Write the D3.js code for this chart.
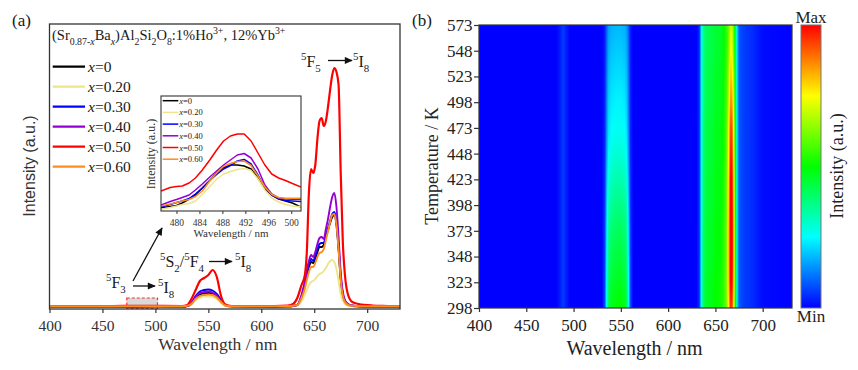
<!DOCTYPE html>
<html><head><meta charset="utf-8">
<script src="https://cdn.jsdelivr.net/npm/d3@7"></script>
<style>
body{margin:0;background:#fff;}
svg{display:block;}
</style>
</head><body><svg id="c" width="858" height="370"></svg>
<script>
// ---------------- Panel (a) data ----------------
const wavelength = [400,460,500,525,530,534,538,542,546,550,554,558,562,566,572,600,625,630,634,638,641,643,645,647,649,651,653,655,657,659,661,663,665,667,669,671,673,675,677,679,682,686,692,705,720,731];
const sX000 = [0.5,0.5,0.6,0.5,1, 3,9,12.5,13.5,14, 13,10,5,1.5,0.5, 0.5,0.7,1,2,10, 21,31,40,45,44, 48,55,60,60,62, 70,77,84,90,92, 82,58,28,12,5, 2,1,0.7,0.5,0.5, 0.5];
const sX020 = [0.5,0.5,0.6,0.5,1, 2.5,7,9.5,10.5,10.5, 10,8,4,1.5,0.5, 0.5,0.6,0.8,1.5,6, 12,17,22,25,26, 28,31,33,34,36, 39,43,46,47,45, 38,26,13,6,3, 1.5,1,0.6,0.5,0.5, 0.5];
const sX030 = [0.5,0.5,0.6,0.5,1, 4,11,15.5,17,17.5, 16.5,13,7,2,0.6, 0.5,0.7,1,2,11, 23,34,43,48,46, 51,58,63,64,64, 72,79,86,93,95, 85,60,30,13,6, 2.5,1.5,0.8,0.5,0.5, 0.5];
const sX040 = [0.5,0.5,0.6,0.5,1, 3.5,10,14,15,15.5, 14.5,11.5,6,2,0.6, 0.5,0.7,1,2,12, 25,37,46,52,50, 55,63,69,70,68, 78,88,100,110,114, 100,70,35,15,7, 3,1.5,0.8,0.5,0.5, 0.5];
const sX050 = [1,1,1.2,1,2, 8,17,26,29,32, 37,30,11,2.5,1, 1,1.5,3,9,22, 31,55,115,138,134, 142,168,186,189,181, 186,200,217,232,239, 235,222,135,65,32, 12,5,3,1.5,1, 0.5];
const sX060 = [0.8,0.8,0.9,0.8,1.2, 3,8,11,12,12.5, 12,9.5,5,1.5,0.8, 0.8,1,1.2,2,9, 18,27,35,40,40, 44,50,54,55,58, 67,76,85,92,93, 82,57,27,11,5, 2,1.2,1,0.8,0.8, 0.8];

// inset (478-502 nm)
const insetWl = [477.3,478.9,480,481,482.2,483.3,484.5,485.8,487,488.2,489.4,490.6,491.8,493,494.2,495.4,496.6,497.8,499,500.2,501.7];
const iX000 = [3.3,4.5,5.5,8,12,16,23,30.5,38,43.5,46,46,45,42,33,22,16,12,10,8,4];
const iX020 = [1.7,3.5,5,6.5,7.5,10,16.5,24.5,32,37,39.5,41.5,42.5,40.5,32,21,13,9,6.5,5,4.3];
const iX030 = [4,6.5,8.5,10,12.5,17,23,30.5,36.5,42,45.5,50,51.5,47,36,24,16,12.5,10.5,10,9.5];
const iX040 = [6,9.5,11.5,13.5,16,21,27,34,40,46,51,56,57.5,53,42,26,17,13,12,11.7,11.7];
const iX050 = [20,23.5,24.5,25,28,33,41,51,61,70,75,77,77,70,58,46,37,33,30.5,27.5,24];
const iX060 = [5,7,8.5,10,11.5,14.5,20,30,38,44.5,47.5,49.5,50,45.5,35,24,16.5,13.5,12.7,12.7,12.7];

const seriesNames = ["0","0.20","0.30","0.40","0.50","0.60"];
const seriesColors = ["#000000","#eee58a","#0000ff","#9400d3","#ff0000","#ff8c1a"];
const seriesMain = [sX000,sX020,sX030,sX040,sX050,sX060];
const seriesInset = [iX000,iX020,iX030,iX040,iX050,iX060];
const xTicksA = [400,450,500,550,600,650,700];
const xTicksInset = [480,484,488,492,496,500];

// ---------------- Panel (b) data ----------------
const temps = [298,323,348,373,398,423,448,473,498,523,548,573];
const xTicksB = [400,450,500,550,600,650,700];
const hmWl =        [400,482,486,489,492,496,530,533,535,537,540,545,550,554,556,558,560,563,630,633,635,637,640,645,650,655,658,660,661.5,663,664.5,666,667.5,669,671,673,675,680,690,700,731];
const compBg =      [0,0,0.03,0.06,0.03,0, 0,0,0,0,0,0,0,0,0,0,0,0, 0,0,0,0,0,0,0,0,0,0,0,0,0,0,0,0,0,0.03,0.06,0.06,0.04,0.01,0];
const compGreen =   [0,0,0,0,0,0, 0,0.15,0.55,0.85,0.96,1,1,0.96,0.85,0.55,0.15,0, 0,0,0,0,0,0,0,0,0,0,0,0,0,0,0,0,0,0,0,0,0,0,0];
const compRedBroad =[0,0,0,0,0,0, 0,0,0,0,0,0,0,0,0,0,0,0, 0,0.1,0.5,0.78,0.92,0.95,1,1.02,1.08,1.15,1.15,1.1,1,1,1,0.95,0.85,0.4,0.05,0,0,0,0];
const compRedPeak = [0,0,0,0,0,0, 0,0,0,0,0,0,0,0,0,0,0,0, 0,0,0,0,0,0,0,0,0,0,0.08,0.3,0.7,1,1,0.7,0.25,0,0,0,0,0,0];
const ampGreen =    [0.50,0.47,0.44,0.41,0.37,0.33,0.29,0.26,0.24,0.22,0.20,0.18];
const ampRedBroad = [0.50,0.50,0.49,0.49,0.48,0.48,0.47,0.47,0.46,0.46,0.45,0.45];
const ampRedPeak =  [0.45,0.52,0.55,0.55,0.55,0.53,0.50,0.46,0.40,0.34,0.29,0.25];
const jetColors = ["#0000ff","#00ffff","#00ff00","#ffff00","#ff0000"];

// ---------------- helpers ----------------
const SERIF = "'Liberation Serif','Times New Roman','DejaVu Serif',serif";
const SANS = "'Liberation Sans',Arial,sans-serif";
const svg = d3.select("#c");
const defs = svg.append("defs");
function rich(sel, segs, size){
  let off = 0;
  segs.forEach(s=>{
    const target = s.sub ? size*0.32 : (s.sup ? -size*0.42 : 0);
    const ts = sel.append("tspan").text(s.t).attr("dy", (target-off).toFixed(2));
    off = target;
    if (s.sub || s.sup) ts.attr("font-size", (size*0.68).toFixed(2));
    if (s.it) ts.style("font-style","italic");
  });
}
defs.append("marker").attr("id","arr").attr("viewBox","0 0 10 10")
  .attr("refX",9).attr("refY",5).attr("markerWidth",9).attr("markerHeight",8)
  .attr("markerUnits","userSpaceOnUse").attr("orient","auto")
  .append("path").attr("d","M0,0.5 L10,5 L0,9.5 Z").attr("fill","#111");

// ---------------- Panel (a) ----------------
const A = {l:49.5, r:400, t:24, b:309};
const xa = d3.scaleLinear().domain([400,731]).range([A.l,A.r]);
const ya = d3.scaleLinear().domain([-2,283]).range([A.b,A.t]);
defs.append("clipPath").attr("id","clipA").append("rect")
  .attr("x",A.l).attr("y",A.t).attr("width",A.r-A.l).attr("height",A.b-A.t);

const gA = svg.append("g");
gA.append("rect").attr("x",xa(473)).attr("y",ya(9)).attr("width",xa(502)-xa(473)).attr("height",ya(-1.5)-ya(9))
  .attr("fill","#d9d9d9").attr("stroke","#ff3030").attr("stroke-width",1.2).attr("stroke-dasharray","3,2");

const lineA = d3.line().x((d,i)=>xa(wavelength[i])).y(d=>ya(d)).curve(d3.curveMonotoneX);
const gLines = gA.append("g").attr("clip-path","url(#clipA)");
seriesMain.forEach((s,k)=>{
  gLines.append("path").attr("d",lineA(s)).attr("fill","none")
    .attr("stroke",seriesColors[k]).attr("stroke-width",k===4?2.2:1.9).attr("stroke-linejoin","round");
});

gA.append("rect").attr("x",A.l).attr("y",A.t).attr("width",A.r-A.l).attr("height",A.b-A.t)
  .attr("fill","none").attr("stroke","#333").attr("stroke-width",1.3);
const axA = gA.append("g").attr("transform",`translate(0,${A.b})`)
  .call(d3.axisBottom(xa).tickValues(xTicksA).tickSize(4).tickPadding(7).tickFormat(d3.format("d")));
axA.select(".domain").remove();
axA.selectAll("line").attr("stroke","#333").attr("stroke-width",1.2);
axA.selectAll("text").attr("font-size",15.5).attr("fill","#333");
svg.append("text").attr("x",(A.l+A.r)/2-7).attr("y",349.5).attr("text-anchor","middle").attr("font-size",17.5).attr("fill","#333").text("Wavelength / nm");
svg.append("text").attr("class","sans").attr("transform",`translate(35,166) rotate(-90)`).attr("text-anchor","middle")
  .attr("font-size",16).attr("fill","#333").text("Intensity (a.u.)");
svg.append("text").attr("x",12).attr("y",26).attr("font-size",17).text("(a)");

rich(svg.append("text").attr("x",52).attr("y",40).attr("font-size",14.5),[
  {t:"(Sr"},{t:"0.87-",sub:1},{t:"x",sub:1,it:1},{t:"Ba"},{t:"x",sub:1,it:1},{t:")Al"},{t:"2",sub:1},{t:"Si"},{t:"2",sub:1},
  {t:"O"},{t:"8",sub:1},{t:":1%Ho"},{t:"3+",sup:1},{t:", 12%Yb"},{t:"3+",sup:1}],14.5);

seriesNames.forEach((n,k)=>{
  const y = 66.7 + k*20;
  svg.append("line").attr("x1",52.7).attr("x2",85).attr("y1",y).attr("y2",y).attr("stroke",seriesColors[k]).attr("stroke-width",2.2);
  rich(svg.append("text").attr("x",88).attr("y",y+5.5).attr("font-size",15.5),[{t:"x",it:1},{t:"="+n}],15.5);
});

function label(x,y,sup,main,sub,size){
  rich(svg.append("text").attr("x",x).attr("y",y).attr("font-size",size),[{t:sup,sup:1},{t:main},{t:sub,sub:1}],size);
}
function arrow(x1,y1,x2,y2){
  svg.append("line").attr("x1",x1).attr("y1",y1).attr("x2",x2).attr("y2",y2).attr("stroke","#111").attr("stroke-width",1.3).attr("marker-end","url(#arr)");
}
label(301,67,"5","F","5",16); arrow(328,60.5,352,60.5); label(353,67,"5","I","8",16);
rich(svg.append("text").attr("x",160).attr("y",266.5).attr("font-size",16),[{t:"5",sup:1},{t:"S"},{t:"2",sub:1},{t:"/"},{t:"5",sup:1},{t:"F"},{t:"4",sub:1}],16);
arrow(209,261.5,232,261.5); label(235,267,"5","I","8",16);
label(106,288,"5","F","3",16); arrow(133,286,155,286); label(158,293,"5","I","8",16);
arrow(133,281,162,228);

// ---------------- Inset ----------------
const I = {l:161, r:301, t:96, b:211};
const xi = d3.scaleLinear().domain([477.3,501.7]).range([I.l,I.r]);
const yi = d3.scaleLinear().domain([0,115]).range([I.b,I.t]);
defs.append("clipPath").attr("id","clipI").append("rect").attr("x",I.l).attr("y",I.t).attr("width",I.r-I.l).attr("height",I.b-I.t);
svg.append("rect").attr("x",I.l).attr("y",I.t).attr("width",I.r-I.l).attr("height",I.b-I.t).attr("fill","#fff");
const lineI = d3.line().x((d,i)=>xi(insetWl[i])).y(d=>yi(d));
const gI = svg.append("g").attr("clip-path","url(#clipI)");
seriesInset.forEach((s,k)=>{
  gI.append("path").attr("d",lineI(s)).attr("fill","none").attr("stroke",seriesColors[k]).attr("stroke-width",1.5).attr("stroke-linejoin","round");
});
seriesNames.forEach((n,k)=>{
  const y = 100.7 + k*11.7;
  svg.append("line").attr("x1",162.7).attr("x2",178.3).attr("y1",y).attr("y2",y).attr("stroke",seriesColors[k]).attr("stroke-width",1.5);
  rich(svg.append("text").attr("x",179.3).attr("y",y+3).attr("font-size",8.5),[{t:"x",it:1},{t:"="+n}],8.5);
});
svg.append("rect").attr("x",I.l).attr("y",I.t).attr("width",I.r-I.l).attr("height",I.b-I.t).attr("fill","none").attr("stroke","#333").attr("stroke-width",1.1);
const axI = svg.append("g").attr("transform",`translate(0,${I.b})`)
  .call(d3.axisBottom(xi).tickValues(xTicksInset).tickSize(3).tickPadding(5).tickFormat(d3.format("d")));
axI.select(".domain").remove();
axI.selectAll("line").attr("stroke","#333");
axI.selectAll("text").attr("font-size",9.5).attr("fill","#333");
svg.append("text").attr("x",(I.l+I.r)/2).attr("y",237).attr("text-anchor","middle").attr("font-size",11).attr("fill","#333").text("Wavelength / nm");
svg.append("text").attr("transform",`translate(155,154) rotate(-90)`).attr("text-anchor","middle").attr("font-size",12).attr("fill","#333").text("Intensity (a.u.)");

// ---------------- Panel (b) ----------------
const B = {l:479, r:792, t:25, b:308};
const hx = d3.scaleLinear().domain([400,731]).range([B.l,B.r]);
const hy = d3.scaleLinear().domain([298,573]).range([B.b,B.t]);
const jet = d3.scaleLinear().domain([0,0.25,0.5,0.75,1]).range(jetColors).clamp(true);
const fBg = d3.scaleLinear().domain(hmWl).range(compBg).clamp(true);
const fG = d3.scaleLinear().domain(hmWl).range(compGreen).clamp(true);
const fRB = d3.scaleLinear().domain(hmWl).range(compRedBroad).clamp(true);
const fRP = d3.scaleLinear().domain(hmWl).range(compRedPeak).clamp(true);
defs.append("clipPath").attr("id","clipB").append("rect").attr("x",B.l).attr("y",B.t).attr("width",B.r-B.l).attr("height",B.b-B.t);
const gB = svg.append("g").attr("clip-path","url(#clipB)");
const nCols = Math.round(B.r-B.l);
const order = d3.range(temps.length).sort((a,b)=>hy(temps[a])-hy(temps[b])); // top (573) first
for(let c=0;c<nCols;c++){
  const lam = hx.invert(B.l+c+0.5);
  const grad = defs.append("linearGradient").attr("id","hg"+c).attr("x1",0).attr("y1",0).attr("x2",0).attr("y2",1);
  order.forEach(i=>{
    const v = fBg(lam)+ampGreen[i]*fG(lam)+ampRedBroad[i]*fRB(lam)+ampRedPeak[i]*fRP(lam);
    grad.append("stop").attr("offset",((hy(temps[i])-B.t)/(B.b-B.t)).toFixed(4)).attr("stop-color",jet(v));
  });
  gB.append("rect").attr("x",B.l+c).attr("y",B.t).attr("width",1.6).attr("height",B.b-B.t).attr("fill",`url(#hg${c})`);
}
svg.append("rect").attr("x",B.l).attr("y",B.t).attr("width",B.r-B.l).attr("height",B.b-B.t).attr("fill","none").attr("stroke","#333").attr("stroke-width",1.2);
const axBx = svg.append("g").attr("transform",`translate(0,${B.b})`)
  .call(d3.axisBottom(hx).tickValues(xTicksB).tickSize(4).tickPadding(7).tickFormat(d3.format("d")));
axBx.select(".domain").remove();
axBx.selectAll("line").attr("stroke","#333").attr("stroke-width",1.2);
axBx.selectAll("text").attr("font-size",17).attr("fill","#222");
const axBy = svg.append("g").attr("transform",`translate(${B.l},0)`)
  .call(d3.axisLeft(hy).tickValues(temps).tickSize(5).tickPadding(1.5).tickFormat(d3.format("d")));
axBy.select(".domain").remove();
axBy.selectAll("line").attr("stroke","#333").attr("stroke-width",1.2);
axBy.selectAll("text").attr("font-size",17).attr("fill","#222");
svg.append("text").attr("x",(B.l+B.r)/2-1).attr("y",355).attr("text-anchor","middle").attr("font-size",20).attr("fill","#222").text("Wavelength / nm");
svg.append("text").attr("transform",`translate(438,166) rotate(-90)`).attr("text-anchor","middle").attr("font-size",18).attr("fill","#222").text("Temperature / K");
svg.append("text").attr("x",412).attr("y",26).attr("font-size",17).text("(b)");

const cb = defs.append("linearGradient").attr("id","cbg").attr("x1",0).attr("y1",1).attr("x2",0).attr("y2",0);
[0,0.25,0.5,0.75,1].forEach((o,i)=>cb.append("stop").attr("offset",o).attr("stop-color",jetColors[i]));
svg.append("rect").attr("x",801).attr("y",25).attr("width",20).attr("height",283).attr("fill","url(#cbg)").attr("stroke","#777").attr("stroke-width",1);
svg.append("text").attr("x",811).attr("y",23).attr("text-anchor","middle").attr("font-size",17).attr("fill","#222").text("Max");
svg.append("text").attr("x",811).attr("y",322).attr("text-anchor","middle").attr("font-size",17).attr("fill","#222").text("Min");
svg.append("text").attr("transform",`translate(843,166) rotate(-90)`).attr("text-anchor","middle").attr("font-size",18).attr("fill","#222").text("Intensity (a.u.)");

// fonts
svg.selectAll("text").each(function(){
  const t = d3.select(this);
  t.style("font-family", t.classed("sans") ? SANS : SERIF);
  if (!t.attr("fill")) t.attr("fill","#1a1a1a");
});
</script></body></html>
